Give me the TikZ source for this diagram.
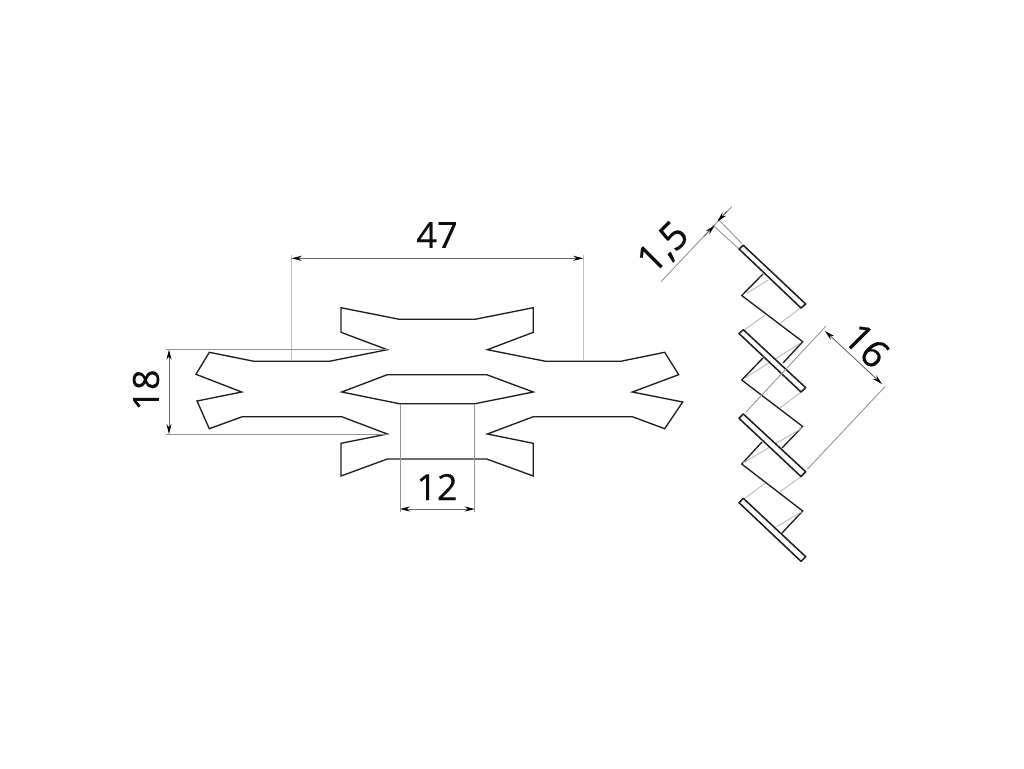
\documentclass[tikz,border=0pt]{standalone}
\usepackage{fontspec}
\setmainfont[FakeBold=0.35]{Open Sans}
\usetikzlibrary{arrows.meta}
\tikzset{
  px/.style={x=0.75pt,y=-0.75pt},
  outline/.style={draw=black!88,line width=1pt,line join=miter},
  barshape/.style={draw=black!88,line width=1.15pt,fill=white,line join=round},
  hidden/.style={draw=black!25,line width=0.75pt},
  extline/.style={draw=black!42,line width=0.65pt},
  extlight/.style={draw=black!25,line width=1pt},
  arrowtip/.style={Stealth[length=7.5pt,width=3.8pt,black]},
  dimline/.style={draw=black!60,line width=0.65pt,{Stealth[length=7.5pt,width=3.8pt,black]}-{Stealth[length=7.5pt,width=3.8pt,black]}},
  dimlabel/.style={font=\fontsize{27}{27}\selectfont,text=black!95,inner sep=0pt},
  dimlabelbig/.style={font=\fontsize{29}{29}\selectfont,text=black!95,inner sep=0pt},
}
\begin{document}
\begin{tikzpicture}[px]
\useasboundingbox[fill=white] (0,0) rectangle (1024,768);
% ---- flat view
\draw[outline] (341,307.7)--(399.3,319.3)--(475,319.3)--(533.3,307.7)--(533.3,332.3)--(487.3,349.7)
 --(545.7,361.3)--(620.7,361.3)--(664.7,352.3)--(678.7,374.7)--(632.3,392)--(682.7,402)--(664.7,428.7)
 --(632.3,416.7)--(533.3,416.7)--(487.3,434)--(533.3,443.3)--(533.3,476)--(486.7,459)--(387.3,459)
 --(341,476)--(341,443.3)--(387.3,434)--(341.7,416.7)--(242.3,416.7)--(209.3,428.7)--(197,401)
 --(241.7,392)--(196,374.3)--(209.3,352.3)--(254,361.3)--(329.3,361.3)--(387.3,349.7)--(341,332.3)--cycle;
\draw[outline] (341.7,392)--(387.3,374.7)--(486.7,374.7)--(533.3,392)--(475,403.7)--(399.3,403.7)--cycle;
% ---- section view: zigzag pieces and hidden edges
\draw[outline] (763,274)--(741.7,295.5)--(802.7,341.7)--(783,363);
\draw[outline] (763,358)--(741.7,380)--(802.7,426.5)--(782,448);
\draw[outline] (762,442)--(741.7,464)--(802.7,511)--(782,533);
\draw[hidden] (768.3,280)--(746.7,293.3);
\draw[hidden] (801,307.7)--(780,323.3);
\draw[hidden] (765,315)--(744.3,330);
\draw[hidden] (800,343.3)--(745,378);
\draw[hidden] (801,392)--(780,408);
\draw[hidden] (802.7,427.7)--(743,463);
\draw[hidden] (801,476.7)--(780,491.7);
\draw[hidden] (765,483.3)--(745,498.3);
\draw[hidden] (801.7,511.7)--(776.7,526.7);
\draw[barshape] (743.3,245.3)--(805.7,304)--(801,308)--(739,249)--cycle;
\draw[barshape] (743.3,329.7)--(805.7,387.7)--(801,392)--(739,333.5)--cycle;
\draw[barshape] (743.3,414)--(805.7,471.7)--(801,476.5)--(739,418.3)--cycle;
\draw[barshape] (743.3,498.3)--(805.7,556.7)--(801,561.3)--(739,502.7)--cycle;
% ---- dimension 47
\coordinate (a1) at (291.7,258.3); \coordinate (a2) at (583.3,258.3);
\draw[extlight] (291.7,255)--(291.7,361);
\draw[extlight] (583.3,255)--(583.3,361);
\draw[dimline] (a1)--(a2);
\node[dimlabel] (n47) at (437,235) {47};
% ---- dimension 18
\coordinate (b1) at (169,349.7); \coordinate (b2) at (169,434);
\draw[extline] (166,349.7)--(387.3,349.7);
\draw[extline] (166,434)--(387.3,434);
\draw[dimline] (b1)--(b2);
\node[dimlabel,rotate=90] (n18) at (146,390) {18};
% ---- dimension 12
\coordinate (c1) at (400,509); \coordinate (c2) at (474.7,509);
\draw[extline] (400,404)--(400,512);
\draw[extline] (474.7,404)--(474.7,512);
\draw[dimline] (c1)--(c2);
\node[dimlabel] (n12) at (437,487) {12};
% ---- dimension 16
\coordinate (d1) at (825,331); \coordinate (d2) at (882,384);
\draw[extline] (826,326)--(746,412);
\draw[extline] (885,386.7)--(807.3,469.3);
\draw[dimline] (d1)--(d2);
\node[dimlabelbig,rotate=-45] (n16) at (867,345.5) {16};
% ---- dimension 1,5
\coordinate (e3) at (661,281.7); \coordinate (e4) at (731.7,206.7);
\coordinate (e1) at (714.5,225.5); \coordinate (e2) at (717.5,221.5);
\coordinate (e5) at (704,236.5); \coordinate (e6) at (727,211);
\draw[extline] (712.7,225)--(738.3,248.3);
\draw[extline] (718.3,219.3)--(741.7,243.3);
\draw[extline] (e3)--(e4);
\draw[-{Stealth[length=7.5pt,width=3.8pt,black]},draw=black!60,line width=0.65pt] (e5)--(e1);
\draw[-{Stealth[length=7.5pt,width=3.8pt,black]},draw=black!60,line width=0.65pt] (e6)--(e2);
\node[dimlabelbig,rotate=45] (n15) at (664,248.5) {1,5};
\end{tikzpicture}
\end{document}
